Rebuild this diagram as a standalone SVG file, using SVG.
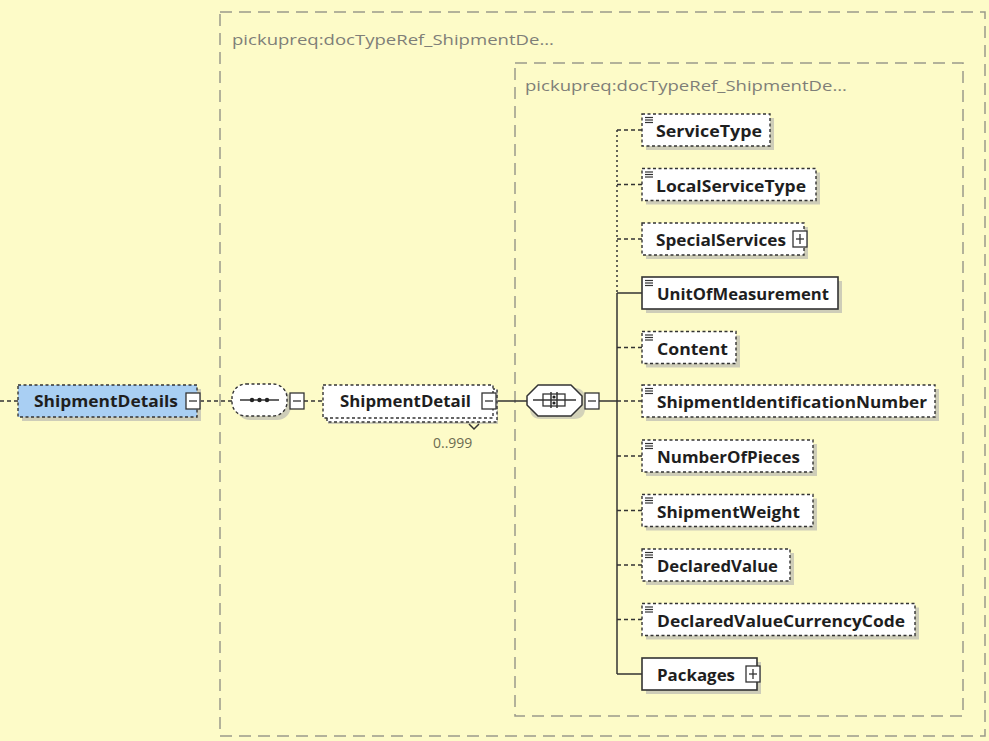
<svg xmlns="http://www.w3.org/2000/svg" width="989" height="741" viewBox="0 0 989 741">
<defs>
<style>
.bg{fill:#fdfbc8}
.grp{fill:none;stroke:#9a9a8a;stroke-width:1.5;stroke-dasharray:12 7}
.glabel{font-family:"Open Sans","Liberation Sans",sans-serif;font-size:14.5px;fill:#7f7f78}
.shadow{fill:#c2c2b4;opacity:0.8}
.opt{fill:#ffffff;stroke:#333333;stroke-width:1.4;stroke-dasharray:3 2.5}
.req{fill:#ffffff;stroke:#333333;stroke-width:1.6}
.root{fill:#a9cff3;stroke:#333333;stroke-width:1.4;stroke-dasharray:3 2.5}
.name{font-family:"Open Sans","Noto Sans","Liberation Sans",sans-serif;font-size:15.5px;font-weight:bold;fill:#1e1e1e}
.occ{font-family:"Open Sans","Liberation Sans",sans-serif;font-size:14px;fill:#6c6c52}
.btn{fill:#ffffff;stroke:#333333;stroke-width:1.3}
.btnl{stroke:#333333;stroke-width:1.3;fill:none}
.cs{stroke:#333333;stroke-width:1.5;fill:none}
.cd{stroke:#333333;stroke-width:1.5;fill:none;stroke-dasharray:4 3}
.cdot{stroke:#333333;stroke-width:1.5;fill:none;stroke-dasharray:2 3}
.ico{stroke:#333333;stroke-width:1.2}
</style>
<g id="simpleIcon"><line class="ico" x1="0" y1="0.5" x2="8" y2="0.5"/><line class="ico" x1="0" y1="3" x2="8" y2="3"/><line class="ico" x1="0" y1="5.5" x2="8" y2="5.5"/></g>
<g id="minusBtn"><rect class="btn" x="0" y="0" width="14" height="16"/><line class="btnl" x1="3" y1="8" x2="11" y2="8"/></g>
<g id="plusBtn"><rect class="btn" x="0" y="0" width="14" height="16"/><line class="btnl" x1="3" y1="8" x2="11" y2="8"/><line class="btnl" x1="7" y1="3" x2="7" y2="13"/></g>
</defs>
<rect class="bg" x="0" y="0" width="989" height="741"/>

<g id="group-outer">
<rect class="grp" x="220" y="12" width="765" height="724"/>
<text class="glabel" x="232" y="45" textLength="322" lengthAdjust="spacingAndGlyphs">pickupreq:docTypeRef_ShipmentDe...</text>
</g>
<g id="group-inner">
<rect class="grp" x="515" y="63" width="448" height="653"/>
<text class="glabel" x="525" y="91" textLength="322" lengthAdjust="spacingAndGlyphs">pickupreq:docTypeRef_ShipmentDe...</text>
</g>

<g id="connectors">
<line class="cd" x1="0" y1="401" x2="18" y2="401"/>
<line class="cd" x1="200" y1="401" x2="232" y2="401"/>
<line class="cd" x1="304" y1="401" x2="323" y2="401"/>
<line class="cs" x1="496" y1="401" x2="527" y2="401"/>
<line class="cs" x1="599" y1="401" x2="617" y2="401"/>
<line class="cdot" x1="617" y1="130" x2="617" y2="293"/>
<line class="cs" x1="617" y1="293" x2="617" y2="674"/>
<line class="cd" x1="617" y1="130" x2="642" y2="130"/>
<line class="cd" x1="617" y1="184.5" x2="642" y2="184.5"/>
<line class="cd" x1="617" y1="239" x2="642" y2="239"/>
<line class="cs" x1="617" y1="293" x2="642" y2="293"/>
<line class="cd" x1="617" y1="347.5" x2="642" y2="347.5"/>
<line class="cd" x1="617" y1="401" x2="642" y2="401"/>
<line class="cd" x1="617" y1="456" x2="642" y2="456"/>
<line class="cd" x1="617" y1="510.5" x2="642" y2="510.5"/>
<line class="cd" x1="617" y1="565" x2="642" y2="565"/>
<line class="cd" x1="617" y1="619.5" x2="642" y2="619.5"/>
<line class="cs" x1="617" y1="674" x2="642" y2="674"/>
</g>

<g id="ShipmentDetails">
<rect class="shadow" x="22" y="389" width="179" height="32"/>
<rect class="root" x="18" y="385" width="179" height="32"/>
<text class="name" x="34" y="407" textLength="144" lengthAdjust="spacingAndGlyphs">ShipmentDetails</text>
<use href="#minusBtn" x="186" y="393"/>
</g>

<g id="sequence">
<rect class="shadow" x="236" y="388" width="55" height="32" rx="14"/>
<rect x="232" y="384" width="55" height="32" rx="14" fill="#ffffff" stroke="#333" stroke-width="1.4" stroke-dasharray="3 2.5"/>
<line class="cs" x1="240" y1="400" x2="279" y2="400"/>
<circle cx="252" cy="400" r="2.2" fill="#222"/><circle cx="259.5" cy="400" r="2.2" fill="#222"/><circle cx="267" cy="400" r="2.2" fill="#222"/>
<use href="#minusBtn" x="290" y="393"/>
</g>

<g id="ShipmentDetail">
<rect class="shadow" x="328" y="390" width="170" height="34"/>
<rect class="opt" x="327" y="389" width="170" height="33"/>
<rect class="opt" x="323" y="385" width="170" height="33"/>
<text class="name" x="340" y="407" textLength="131" lengthAdjust="spacingAndGlyphs">ShipmentDetail</text>
<use href="#minusBtn" x="482" y="393"/>
<path d="M469 424 L474 429 L479 424" class="cs" stroke-width="1.2"/>
<text class="occ" x="433" y="448">0..999</text>
</g>

<g id="choice">
<path d="M527 396 Q527 385 538 385 L571 385 Q582 385 582 396 L582 405 Q582 416 571 416 L538 416 Q527 416 527 405 Z" fill="#aaa" opacity="0.5" transform="translate(3,3)"/>
<path d="M527 396 L538 385 L571 385 L582 396 L582 405 L571 416 L538 416 L527 405 Z" fill="#fff" stroke="#333" stroke-width="1.5" stroke-linejoin="round"/>
<line class="cs" x1="533" y1="400" x2="576" y2="400"/>
<rect x="543" y="394" width="22" height="12" fill="none" stroke="#333" stroke-width="1.3"/>
<line class="cs" x1="551" y1="392" x2="551" y2="408" stroke-width="1.3"/>
<line class="cs" x1="557" y1="392" x2="557" y2="408" stroke-width="1.3"/>
<circle cx="554" cy="397" r="1.6" fill="#222"/><circle cx="554" cy="403" r="1.6" fill="#222"/>
<use href="#minusBtn" x="585" y="393"/>
</g>

<g id="ServiceType">
<rect class="shadow" x="646" y="118" width="128" height="32"/>
<rect class="opt" x="642" y="114" width="128" height="32"/>
<use href="#simpleIcon" x="645" y="117"/>
<text class="name" x="656" y="137" textLength="106" lengthAdjust="spacingAndGlyphs">ServiceType</text>
</g>
<g id="LocalServiceType">
<rect class="shadow" x="646" y="172.5" width="174" height="32"/>
<rect class="opt" x="642" y="168.5" width="174" height="32"/>
<use href="#simpleIcon" x="645" y="171.5"/>
<text class="name" x="656" y="191.5" textLength="150" lengthAdjust="spacingAndGlyphs">LocalServiceType</text>
</g>
<g id="SpecialServices">
<rect class="shadow" x="646" y="227" width="162" height="32"/>
<rect class="opt" x="642" y="223" width="162" height="32"/>
<text class="name" x="656" y="246" textLength="130" lengthAdjust="spacingAndGlyphs">SpecialServices</text>
<use href="#plusBtn" x="793" y="231"/>
</g>
<g id="UnitOfMeasurement">
<rect class="shadow" x="646" y="281" width="196" height="32"/>
<rect class="req" x="642" y="277" width="196" height="32"/>
<use href="#simpleIcon" x="645" y="280"/>
<text class="name" x="657" y="300" textLength="172" lengthAdjust="spacingAndGlyphs">UnitOfMeasurement</text>
</g>
<g id="Content">
<rect class="shadow" x="646" y="335.5" width="94" height="32"/>
<rect class="opt" x="642" y="331.5" width="94" height="32"/>
<use href="#simpleIcon" x="645" y="334.5"/>
<text class="name" x="657" y="354.5" textLength="71" lengthAdjust="spacingAndGlyphs">Content</text>
</g>
<g id="ShipmentIdentificationNumber">
<rect class="shadow" x="646" y="389" width="293" height="32"/>
<rect class="opt" x="642" y="385" width="293" height="32"/>
<use href="#simpleIcon" x="645" y="388"/>
<text class="name" x="657" y="408" textLength="270" lengthAdjust="spacingAndGlyphs">ShipmentIdentificationNumber</text>
</g>
<g id="NumberOfPieces">
<rect class="shadow" x="646" y="444" width="171" height="32"/>
<rect class="opt" x="642" y="440" width="171" height="32"/>
<use href="#simpleIcon" x="645" y="443"/>
<text class="name" x="657" y="463" textLength="143" lengthAdjust="spacingAndGlyphs">NumberOfPieces</text>
</g>
<g id="ShipmentWeight">
<rect class="shadow" x="646" y="498.5" width="171" height="32"/>
<rect class="opt" x="642" y="494.5" width="171" height="32"/>
<use href="#simpleIcon" x="645" y="497.5"/>
<text class="name" x="657" y="517.5" textLength="143" lengthAdjust="spacingAndGlyphs">ShipmentWeight</text>
</g>
<g id="DeclaredValue">
<rect class="shadow" x="646" y="553" width="148" height="32"/>
<rect class="opt" x="642" y="549" width="148" height="32"/>
<use href="#simpleIcon" x="645" y="552"/>
<text class="name" x="657" y="572" textLength="121" lengthAdjust="spacingAndGlyphs">DeclaredValue</text>
</g>
<g id="DeclaredValueCurrencyCode">
<rect class="shadow" x="646" y="607.5" width="273" height="32"/>
<rect class="opt" x="642" y="603.5" width="273" height="32"/>
<use href="#simpleIcon" x="645" y="606.5"/>
<text class="name" x="657" y="626.5" textLength="248" lengthAdjust="spacingAndGlyphs">DeclaredValueCurrencyCode</text>
</g>
<g id="Packages">
<rect class="shadow" x="646" y="662" width="115" height="32"/>
<rect class="req" x="642" y="658" width="115" height="32"/>
<text class="name" x="657" y="681" textLength="78" lengthAdjust="spacingAndGlyphs">Packages</text>
<use href="#plusBtn" x="746" y="666"/>
</g>
</svg>
